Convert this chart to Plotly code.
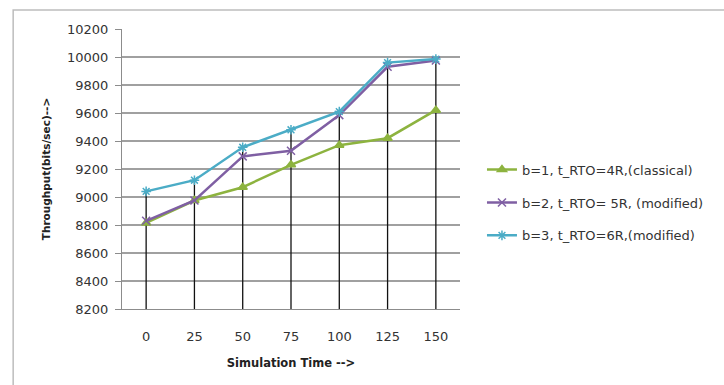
import plotly.graph_objects as go

categories = ["0", "25", "50", "75", "100", "125", "150"]
series_names = [
    "b=1, t_RTO=4R,(classical)",
    "b=2, t_RTO= 5R, (modified)",
    "b=3, t_RTO=6R,(modified)",
]
b1_classical = [8815, 8975, 9070, 9230, 9370, 9420, 9620]
b2_modified = [8830, 8975, 9290, 9330, 9585, 9930, 9975]
b3_modified = [9040, 9120, 9355, 9480, 9610, 9960, 9985]
y_ticks = [8200, 8400, 8600, 8800, 9000, 9200, 9400, 9600, 9800, 10000, 10200]

colors = ["#8db33f", "#7f5fa3", "#4bacc6"]
symbols = ["triangle-up", "x-thin-open", "asterisk-open"]
all_series = [b1_classical, b2_modified, b3_modified]

FONT = "DejaVu Sans"
y_min, y_max = y_ticks[0], y_ticks[-1]

fig = go.Figure()

# drop lines from the highest point down to the category axis
dx, dy = [], []
for i, c in enumerate(categories):
    top = max(s[i] for s in all_series)
    dx += [c, c, None]
    dy += [y_min, top, None]
fig.add_trace(go.Scatter(x=dx, y=dy, mode="lines", line=dict(color="#111111", width=1.3),
                         showlegend=False, hoverinfo="skip"))

for k, (name, vals, col, sym) in enumerate(zip(series_names, all_series, colors, symbols)):
    fig.add_trace(go.Scatter(
        x=categories, y=vals, name=name, mode="lines+markers", legendgroup=f"g{k}",
        line=dict(color=col, width=2.5),
        marker=dict(symbol=sym, size=8, color=col, line=dict(color=col, width=1.5)),
    ))

fig.update_layout(
    width=724, height=385,
    margin=dict(l=122, r=264, t=29, b=76),
    paper_bgcolor="white", plot_bgcolor="white",
    font=dict(family=FONT, size=13, color="#333333"),
    showlegend=True,
    legend=dict(x=1.065, y=0.38, xanchor="left", yanchor="middle",
                font=dict(family=FONT, size=13, color="#333333"),
                tracegroupgap=13, itemwidth=30, bgcolor="rgba(0,0,0,0)"),
    shapes=[dict(type="rect", xref="paper", yref="paper",
                 x0=-0.322, x1=1.9, y0=-0.5, y1=1.068,
                 line=dict(color="#bdbdbd", width=1.5), layer="below")],
)

fig.update_xaxes(
    type="category", categoryorder="array", categoryarray=categories,
    range=[-0.5, 6.5], showgrid=False, zeroline=False,
    showline=True, linecolor="#8c8c8c", linewidth=1,
    ticks="", ticklabelstandoff=15,
    tickfont=dict(family=FONT, size=13, color="#333333"),
    title=dict(text="<b>Simulation Time --></b>", standoff=16,
               font=dict(family=FONT, size=11.5, color="#222222")),
)
fig.update_yaxes(
    range=[y_min, y_max], tickvals=y_ticks, ticktext=[str(v) for v in y_ticks],
    showgrid=True, gridcolor="#a0a0a0", gridwidth=1.5, zeroline=False,
    showline=True, linecolor="#8c8c8c", linewidth=1,
    ticks="outside", ticklen=6, tickcolor="#8c8c8c", ticklabelstandoff=4,
    tickfont=dict(family=FONT, size=13, color="#333333"),
    title=dict(text="<b>Throughput(bits/sec)--></b>", standoff=14,
               font=dict(family=FONT, size=10.5, color="#222222")),
)

fig.write_html("out.html")
